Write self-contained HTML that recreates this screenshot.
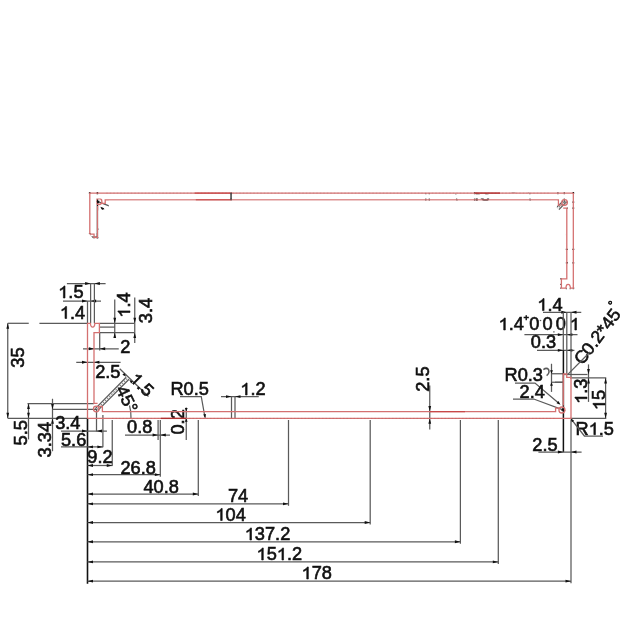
<!DOCTYPE html>
<html><head><meta charset="utf-8"><style>
html,body{margin:0;padding:0;background:#fff;width:640px;height:640px;overflow:hidden}
svg{display:block;filter:blur(0.3px)}
text{font-family:"Liberation Sans",sans-serif;fill:#111;stroke:#111;stroke-width:0.6px;text-anchor:middle}
line,path{fill:none}
.ah{fill:#111;stroke:none}
.h1{fill:none;stroke:none}
.g1{fill:#111;stroke:#111;stroke-width:0.6px}
</style></head><body>
<svg width="640" height="640" viewBox="0 0 640 640">
<g transform="rotate(180 330.4 305.75)">
<g stroke="#5a5a5a" stroke-width="1.25">
<line x1="66.9" y1="283.5" x2="105.6" y2="283.5" />
<path class="ah" d="M90.60 283.50L85.10 284.90L85.10 282.10Z"/>
<path class="ah" d="M94.40 283.50L99.90 282.10L99.90 284.90Z"/>
<text transform="translate(70.88 298.00) scale(1.04 1)" font-size="17.5"><tspan class="h1">1</tspan>.5</text>
<path class="g1" transform="translate(70.88 298.00) scale(1.04 1)" d="M-5.65 0.00L-7.19 0.00L-7.19 -9.40L-7.55 -9.06L-8.15 -8.63L-8.84 -8.22L-9.60 -7.84L-10.27 -7.59L-10.27 -9.02L-9.35 -9.47L-8.49 -10.01L-7.64 -10.68L-7.04 -11.36L-6.68 -12.04L-5.65 -12.04Z"/>
<line x1="63" y1="301" x2="101" y2="301" />
<path class="ah" d="M87.50 301.00L82.00 302.40L82.00 299.60Z"/>
<path class="ah" d="M90.60 301.00L96.10 299.60L96.10 302.40Z"/>
<text transform="translate(72.50 318.50) scale(1.04 1)" font-size="17.5"><tspan class="h1">1</tspan>.4</text>
<path class="g1" transform="translate(72.50 318.50) scale(1.04 1)" d="M-5.65 0.00L-7.19 0.00L-7.19 -9.40L-7.55 -9.06L-8.15 -8.63L-8.84 -8.22L-9.60 -7.84L-10.27 -7.59L-10.27 -9.02L-9.35 -9.47L-8.49 -10.01L-7.64 -10.68L-7.04 -11.36L-6.68 -12.04L-5.65 -12.04Z"/>
<line x1="87.5" y1="301" x2="87.5" y2="323.3" />
<line x1="90.6" y1="283.5" x2="90.6" y2="323.3" />
<line x1="94.4" y1="283.5" x2="94.4" y2="323.3" />
<line x1="7.75" y1="323.3" x2="28.75" y2="323.3" />
<line x1="39.4" y1="323.3" x2="87.5" y2="323.3" />
<line x1="7.75" y1="323.3" x2="7.75" y2="418.3" />
<path class="ah" d="M7.75 323.30L9.15 328.80L6.35 328.80Z"/>
<path class="ah" d="M7.75 418.30L6.35 412.80L9.15 412.80Z"/>
<text transform="translate(24.00 357.62) rotate(-90) scale(1.04 1)" font-size="17.5">35</text>
<line x1="7.75" y1="418.3" x2="87.5" y2="418.3" />
<line x1="99.7" y1="323.3" x2="134.4" y2="323.3" />
<line x1="99.7" y1="327.1" x2="115" y2="327.1" />
<line x1="99.7" y1="332.6" x2="134.4" y2="332.6" />
<line x1="114.75" y1="299.4" x2="114.75" y2="337.5" />
<path class="ah" d="M114.75 323.30L113.35 317.80L116.15 317.80Z"/>
<path class="ah" d="M114.75 332.60L116.15 338.10L113.35 338.10Z"/>
<text transform="translate(130.00 305.00) rotate(-90) scale(1.04 1)" font-size="17.5"><tspan class="h1">1</tspan>.4</text>
<path class="g1" transform="translate(130.00 305.00) rotate(-90) scale(1.04 1)" d="M-5.65 0.00L-7.19 0.00L-7.19 -9.40L-7.55 -9.06L-8.15 -8.63L-8.84 -8.22L-9.60 -7.84L-10.27 -7.59L-10.27 -9.02L-9.35 -9.47L-8.49 -10.01L-7.64 -10.68L-7.04 -11.36L-6.68 -12.04L-5.65 -12.04Z"/>
<line x1="134.75" y1="297.5" x2="134.75" y2="343" />
<path class="ah" d="M134.75 323.30L133.35 317.80L136.15 317.80Z"/>
<path class="ah" d="M134.75 332.60L136.15 338.10L133.35 338.10Z"/>
<text transform="translate(151.50 310.50) rotate(-90) scale(1.04 1)" font-size="17.5">3.4</text>
<line x1="99.7" y1="332.6" x2="99.7" y2="350.5" />
<line x1="83" y1="348.75" x2="118.75" y2="348.75" />
<path class="ah" d="M94.30 348.75L88.80 350.15L88.80 347.35Z"/>
<path class="ah" d="M99.70 348.75L105.20 347.35L105.20 350.15Z"/>
<text transform="translate(125.30 353.00) scale(1.04 1)" font-size="17.5">2</text>
<line x1="76.25" y1="362.25" x2="120.6" y2="362.25" />
<path class="ah" d="M87.50 362.25L82.00 363.65L82.00 360.85Z"/>
<path class="ah" d="M93.90 362.25L99.40 360.85L99.40 363.65Z"/>
<text transform="translate(107.80 377.50) scale(1.04 1)" font-size="17.5">2.5</text>
<line x1="95.3" y1="408.6" x2="126.2" y2="377.2" />
<line x1="97.9" y1="410.4" x2="129.0" y2="379.2" />
<line x1="96.6" y1="409.5" x2="127.6" y2="378.2" stroke-dasharray="1.5 1.5" stroke="#888"/>
<line x1="119.7" y1="368.7" x2="148.5" y2="396.5" />
<path class="ah" d="M126.20 376.70L122.38 374.86L124.36 372.88Z"/>
<path class="ah" d="M129.30 379.70L133.12 381.54L131.14 383.52Z"/>
<text transform="translate(142.00 384.50) rotate(45) scale(1.04 1) translate(0 6.02)" font-size="17.5"><tspan class="h1">1</tspan>.5</text>
<path class="g1" transform="translate(142.00 384.50) rotate(45) scale(1.04 1) translate(0 6.02)" d="M-5.65 0.00L-7.19 0.00L-7.19 -9.40L-7.55 -9.06L-8.15 -8.63L-8.84 -8.22L-9.60 -7.84L-10.27 -7.59L-10.27 -9.02L-9.35 -9.47L-8.49 -10.01L-7.64 -10.68L-7.04 -11.36L-6.68 -12.04L-5.65 -12.04Z"/>
<text transform="translate(127.00 399.00) rotate(64) scale(1.04 1) translate(0 6.02)" font-size="17.5">45°</text>
<path d="M129.5 405.5Q131.2 411 131.0 418.3" />
<line x1="27.5" y1="403.5" x2="93.9" y2="403.5" />
<line x1="28.5" y1="403.5" x2="28.5" y2="439.4" />
<path class="ah" d="M28.50 403.50L29.90 409.00L27.10 409.00Z"/>
<path class="ah" d="M28.50 418.30L27.10 412.80L29.90 412.80Z"/>
<text transform="translate(27.00 432.80) rotate(-90) scale(1.04 1)" font-size="17.5">5.5</text>
<line x1="52.5" y1="409.4" x2="96" y2="409.4" />
<line x1="52.5" y1="398.75" x2="52.5" y2="451.25" />
<path class="ah" d="M52.50 409.40L51.10 403.90L53.90 403.90Z"/>
<path class="ah" d="M52.50 418.30L53.90 423.80L51.10 423.80Z"/>
<text transform="translate(51.25 439.70) rotate(-90) scale(1.04 1)" font-size="17.5">3.34</text>
<line x1="87.5" y1="418.3" x2="87.5" y2="583.75" stroke="#111" stroke-width="1.6" />
<line x1="61" y1="431" x2="106.9" y2="431" />
<line x1="96.5" y1="409" x2="96.5" y2="431.5" />
<path class="ah" d="M87.50 431.00L82.00 432.40L82.00 429.60Z"/>
<path class="ah" d="M96.50 431.00L102.00 429.60L102.00 432.40Z"/>
<text transform="translate(67.80 428.75) scale(1.04 1)" font-size="17.5">3.4</text>
<line x1="61" y1="446.9" x2="103" y2="446.9" />
<line x1="102.9" y1="415" x2="102.9" y2="447.2" />
<path class="ah" d="M87.50 446.90L93.00 445.50L93.00 448.30Z"/>
<path class="ah" d="M102.90 446.90L97.40 448.30L97.40 445.50Z"/>
<text transform="translate(73.62 446.25) scale(1.04 1)" font-size="17.5">5.6</text>
<line x1="87.5" y1="465.5" x2="112.5" y2="465.5" />
<line x1="112.25" y1="420" x2="112.25" y2="465.8" />
<path class="ah" d="M87.50 465.50L93.00 464.10L93.00 466.90Z"/>
<path class="ah" d="M112.25 465.50L106.75 466.90L106.75 464.10Z"/>
<text transform="translate(99.95 463.00) scale(1.04 1)" font-size="17.5">9.2</text>
<line x1="87.5" y1="474.7" x2="160.3" y2="474.7" />
<line x1="160.3" y1="420" x2="160.3" y2="476.7" />
<path class="ah" d="M87.50 474.70L93.00 473.30L93.00 476.10Z"/>
<path class="ah" d="M160.30 474.70L154.80 476.10L154.80 473.30Z"/>
<text transform="translate(138.15 473.80) scale(1.04 1)" font-size="17.5">26.8</text>
<line x1="87.5" y1="494.0" x2="198.3" y2="494.0" />
<line x1="198.3" y1="420" x2="198.3" y2="496.0" />
<path class="ah" d="M87.50 494.00L93.00 492.60L93.00 495.40Z"/>
<path class="ah" d="M198.30 494.00L192.80 495.40L192.80 492.60Z"/>
<text transform="translate(161.15 492.50) scale(1.04 1)" font-size="17.5">40.8</text>
<line x1="87.5" y1="503.8" x2="288.5" y2="503.8" />
<line x1="288.5" y1="420" x2="288.5" y2="505.8" />
<path class="ah" d="M87.50 503.80L93.00 502.40L93.00 505.20Z"/>
<path class="ah" d="M288.50 503.80L283.00 505.20L283.00 502.40Z"/>
<text transform="translate(238.12 502.00) scale(1.04 1)" font-size="17.5">74</text>
<line x1="87.5" y1="522.5" x2="370.2" y2="522.5" />
<line x1="370.2" y1="420" x2="370.2" y2="524.5" />
<path class="ah" d="M87.50 522.50L93.00 521.10L93.00 523.90Z"/>
<path class="ah" d="M370.20 522.50L364.70 523.90L364.70 521.10Z"/>
<text transform="translate(230.62 520.50) scale(1.04 1)" font-size="17.5"><tspan class="h1">1</tspan>04</text>
<path class="g1" transform="translate(230.62 520.50) scale(1.04 1)" d="M-8.08 0.00L-9.62 0.00L-9.62 -9.40L-9.99 -9.06L-10.59 -8.63L-11.27 -8.22L-12.04 -7.84L-12.71 -7.59L-12.71 -9.02L-11.78 -9.47L-10.93 -10.01L-10.07 -10.68L-9.48 -11.36L-9.12 -12.04L-8.08 -12.04Z"/>
<line x1="87.5" y1="541.75" x2="460.4" y2="541.75" />
<line x1="460.4" y1="420" x2="460.4" y2="543.75" />
<path class="ah" d="M87.50 541.75L93.00 540.35L93.00 543.15Z"/>
<path class="ah" d="M460.40 541.75L454.90 543.15L454.90 540.35Z"/>
<text transform="translate(267.50 540.00) scale(1.04 1)" font-size="17.5"><tspan class="h1">1</tspan>37.2</text>
<path class="g1" transform="translate(267.50 540.00) scale(1.04 1)" d="M-15.37 0.00L-16.91 0.00L-16.91 -9.40L-17.28 -9.06L-17.88 -8.63L-18.56 -8.22L-19.33 -7.84L-20.00 -7.59L-20.00 -9.02L-19.07 -9.47L-18.22 -10.01L-17.36 -10.68L-16.77 -11.36L-16.41 -12.04L-15.37 -12.04Z"/>
<line x1="87.5" y1="561.9" x2="498.3" y2="561.9" />
<line x1="498.3" y1="420" x2="498.3" y2="563.9" />
<path class="ah" d="M87.50 561.90L93.00 560.50L93.00 563.30Z"/>
<path class="ah" d="M498.30 561.90L492.80 563.30L492.80 560.50Z"/>
<text transform="translate(279.30 560.00) scale(1.04 1)" font-size="17.5"><tspan class="h1">1</tspan>5<tspan class="h1">1</tspan>.2</text>
<path class="g1" transform="translate(279.30 560.00) scale(1.04 1)" d="M-15.39 0.00L-16.93 0.00L-16.93 -9.40L-17.29 -9.06L-17.89 -8.63L-18.58 -8.22L-19.35 -7.84L-20.01 -7.59L-20.01 -9.02L-19.09 -9.47L-18.23 -10.01L-17.38 -10.68L-16.78 -11.36L-16.42 -12.04L-15.39 -12.04ZM4.09 0.00L2.55 0.00L2.55 -9.40L2.19 -9.06L1.59 -8.63L0.90 -8.22L0.14 -7.84L-0.53 -7.59L-0.53 -9.02L0.39 -9.47L1.25 -10.01L2.10 -10.68L2.70 -11.36L3.06 -12.04L4.09 -12.04Z"/>
<line x1="87.5" y1="581.2" x2="571.0" y2="581.2" />
<line x1="571.0" y1="420" x2="571.0" y2="583.2" />
<path class="ah" d="M87.50 581.20L93.00 579.80L93.00 582.60Z"/>
<path class="ah" d="M571.00 581.20L565.50 582.60L565.50 579.80Z"/>
<text transform="translate(316.75 579.00) scale(1.04 1)" font-size="17.5"><tspan class="h1">1</tspan>78</text>
<path class="g1" transform="translate(316.75 579.00) scale(1.04 1)" d="M-8.08 0.00L-9.62 0.00L-9.62 -9.40L-9.99 -9.06L-10.59 -8.63L-11.27 -8.22L-12.04 -7.84L-12.71 -7.59L-12.71 -9.02L-11.78 -9.47L-10.93 -10.01L-10.07 -10.68L-9.48 -11.36L-9.12 -12.04L-8.08 -12.04Z"/>
<line x1="158.1" y1="420" x2="158.1" y2="440" />
<line x1="125" y1="435" x2="170" y2="435" />
<path class="ah" d="M158.10 435.00L152.60 436.40L152.60 433.60Z"/>
<path class="ah" d="M160.30 435.00L165.80 433.60L165.80 436.40Z"/>
<text transform="translate(139.75 432.50) scale(1.04 1)" font-size="17.5">0.8</text>
<line x1="186.25" y1="407.5" x2="186.25" y2="440" />
<path class="ah" d="M186.25 411.60L184.85 408.10L187.65 408.10Z"/>
<path class="ah" d="M186.25 418.30L187.65 421.80L184.85 421.80Z"/>
<text transform="translate(184.40 421.88) rotate(-90) scale(1.04 1)" font-size="17.5">0.2</text>
<text transform="translate(189.68 395.00) scale(1.04 1)" font-size="17.5">R0.5</text>
<path d="M180 396.5L201.25 396.5L205 417.5" />
<path class="ah" d="M205.30 418.30L203.21 414.61L205.97 414.12Z"/>
<line x1="221" y1="396.6" x2="258.75" y2="396.6" />
<line x1="231.5" y1="396.6" x2="231.5" y2="418.3" />
<line x1="235" y1="396.6" x2="235" y2="418.3" />
<path class="ah" d="M231.50 396.60L226.00 398.00L226.00 395.20Z"/>
<path class="ah" d="M235.00 396.60L240.50 395.20L240.50 398.00Z"/>
<text transform="translate(253.00 395.00) scale(1.04 1)" font-size="17.5"><tspan class="h1">1</tspan>.2</text>
<path class="g1" transform="translate(253.00 395.00) scale(1.04 1)" d="M-5.65 0.00L-7.19 0.00L-7.19 -9.40L-7.55 -9.06L-8.15 -8.63L-8.84 -8.22L-9.60 -7.84L-10.27 -7.59L-10.27 -9.02L-9.35 -9.47L-8.49 -10.01L-7.64 -10.68L-7.04 -11.36L-6.68 -12.04L-5.65 -12.04Z"/>
<line x1="429.75" y1="385.6" x2="429.75" y2="429.4" />
<path class="ah" d="M429.75 411.60L428.35 406.10L431.15 406.10Z"/>
<path class="ah" d="M429.75 418.30L431.15 423.80L428.35 423.80Z"/>
<text transform="translate(429.40 379.12) rotate(-90) scale(1.04 1)" font-size="17.5">2.5</text>
<text transform="translate(523.75 380.60) scale(1.04 1)" font-size="17.5">R0.3</text>
<path d="M543.4 369.6Q546.5 367.2 548.6 369.6Q550 373 546.6 375.6" stroke-width="1.5" />
<path d="M515 383L535 383L559.4 403.75" />
<path class="ah" d="M560.50 404.70L556.55 403.18L558.36 401.04Z"/>
<text transform="translate(532.20 397.50) scale(1.04 1)" font-size="17.5">2.4</text>
<path d="M513 399L533.75 399L565 410.6" />
<path class="ah" d="M565.50 410.80L561.26 410.72L562.23 408.10Z"/>
<line x1="551.5" y1="363.75" x2="551.5" y2="391.9" />
<line x1="551.5" y1="373.75" x2="563.5" y2="373.75" />
<line x1="551.5" y1="382.25" x2="563.5" y2="382.25" />
<path class="ah" d="M551.50 373.75L550.10 370.25L552.90 370.25Z"/>
<path class="ah" d="M551.50 382.25L552.90 385.75L550.10 385.75Z"/>
<text transform="translate(549.95 310.60) scale(1.04 1)" font-size="17.5"><tspan class="h1">1</tspan>.4</text>
<path class="g1" transform="translate(549.95 310.60) scale(1.04 1)" d="M-5.65 0.00L-7.19 0.00L-7.19 -9.40L-7.55 -9.06L-8.15 -8.63L-8.84 -8.22L-9.60 -7.84L-10.27 -7.59L-10.27 -9.02L-9.35 -9.47L-8.49 -10.01L-7.64 -10.68L-7.04 -11.36L-6.68 -12.04L-5.65 -12.04Z"/>
<line x1="543" y1="312.25" x2="581.25" y2="312.25" />
<path class="ah" d="M566.80 312.25L561.30 313.65L561.30 310.85Z"/>
<path class="ah" d="M571.00 312.25L576.50 310.85L576.50 313.65Z"/>
<text transform="translate(511.20 330.00) scale(1.04 1)" font-size="17.5"><tspan class="h1">1</tspan>.4</text>
<path class="g1" transform="translate(511.20 330.00) scale(1.04 1)" d="M-5.65 0.00L-7.19 0.00L-7.19 -9.40L-7.55 -9.06L-8.15 -8.63L-8.84 -8.22L-9.60 -7.84L-10.27 -7.59L-10.27 -9.02L-9.35 -9.47L-8.49 -10.01L-7.64 -10.68L-7.04 -11.36L-6.68 -12.04L-5.65 -12.04Z"/>
<text transform="translate(534.40 330.00) scale(1.04 1)" font-size="17.5">0</text>
<text transform="translate(547.50 330.00) scale(1.04 1)" font-size="17.5">0</text>
<text transform="translate(560.80 330.00) scale(1.04 1)" font-size="17.5">0</text>
<text transform="translate(574.75 330.00) scale(1.04 1)" font-size="17.5"><tspan class="h1">1</tspan></text>
<path class="g1" transform="translate(574.75 330.00) scale(1.04 1)" d="M1.65 0.00L0.11 0.00L0.11 -9.40L-0.26 -9.06L-0.85 -8.63L-1.54 -8.22L-2.31 -7.84L-2.97 -7.59L-2.97 -9.02L-2.05 -9.47L-1.20 -10.01L-0.34 -10.68L0.26 -11.36L0.62 -12.04L1.65 -12.04Z"/>
<text transform="translate(526.25 321.20) scale(1.04 1)" font-size="9">+</text>
<line x1="539.8" y1="320.5" x2="541.2" y2="320.5" />
<line x1="553.2" y1="331.8" x2="554.6" y2="331.8" />
<line x1="524.4" y1="334.7" x2="577.5" y2="334.7" />
<path class="ah" d="M563.30 334.70L557.80 336.10L557.80 333.30Z"/>
<path class="ah" d="M566.80 334.70L572.30 333.30L572.30 336.10Z"/>
<text transform="translate(543.50 348.00) scale(1.04 1)" font-size="17.5">0.3</text>
<line x1="537" y1="350.3" x2="574.4" y2="350.3" />
<path class="ah" d="M563.30 350.30L557.80 351.70L557.80 348.90Z"/>
<path class="ah" d="M566.80 350.30L572.30 348.90L572.30 351.70Z"/>
<line x1="563.3" y1="312.25" x2="563.3" y2="350.3" />
<line x1="563.4" y1="350.3" x2="563.4" y2="452.2" stroke="#111" stroke-width="1.5" />
<line x1="566.8" y1="312.25" x2="566.8" y2="374" />
<line x1="571" y1="312.25" x2="571" y2="377.3" />
<text transform="translate(600.85 331.75) rotate(-53) scale(1.04 1) translate(0 6.02)" font-size="17.5">0.2*45</text>
<text transform="translate(581.60 356.80) rotate(-53) scale(1.04 1) translate(0 6.02)" font-size="17.5">C</text>
<text transform="translate(612.20 304.30) rotate(-53) scale(1.04 1) translate(0 4.13)" font-size="12">°</text>
<line x1="567.6" y1="374.6" x2="590" y2="352" />
<line x1="563" y1="374.5" x2="587.5" y2="374.5" />
<line x1="570" y1="377.9" x2="606.25" y2="377.9" />
<line x1="570" y1="418.3" x2="606.25" y2="418.3" />
<line x1="555" y1="382.25" x2="563.5" y2="382.25" />
<line x1="588.5" y1="364.4" x2="588.5" y2="401.9" />
<path class="ah" d="M588.50 374.50L587.10 369.00L589.90 369.00Z"/>
<path class="ah" d="M588.50 377.90L589.90 383.40L587.10 383.40Z"/>
<text transform="translate(587.00 391.20) rotate(-90) scale(1.04 1)" font-size="17.5"><tspan class="h1">1</tspan>.3</text>
<path class="g1" transform="translate(587.00 391.20) rotate(-90) scale(1.04 1)" d="M-5.65 0.00L-7.19 0.00L-7.19 -9.40L-7.55 -9.06L-8.15 -8.63L-8.84 -8.22L-9.60 -7.84L-10.27 -7.59L-10.27 -9.02L-9.35 -9.47L-8.49 -10.01L-7.64 -10.68L-7.04 -11.36L-6.68 -12.04L-5.65 -12.04Z"/>
<line x1="605.6" y1="377.9" x2="605.6" y2="418.3" />
<path class="ah" d="M605.60 377.90L607.00 383.40L604.20 383.40Z"/>
<path class="ah" d="M605.60 418.30L604.20 412.80L607.00 412.80Z"/>
<text transform="translate(605.00 400.00) rotate(-90) scale(1.04 1)" font-size="17.5"><tspan class="h1">1</tspan>5</text>
<path class="g1" transform="translate(605.00 400.00) rotate(-90) scale(1.04 1)" d="M-3.22 0.00L-4.76 0.00L-4.76 -9.40L-5.13 -9.06L-5.72 -8.63L-6.41 -8.22L-7.18 -7.84L-7.84 -7.59L-7.84 -9.02L-6.92 -9.47L-6.07 -10.01L-5.21 -10.68L-4.61 -11.36L-4.25 -12.04L-3.22 -12.04Z"/>
<text transform="translate(594.75 434.70) scale(1.04 1)" font-size="17.5">R<tspan class="h1">1</tspan>.5</text>
<path class="g1" transform="translate(594.75 434.70) scale(1.04 1)" d="M0.67 0.00L-0.87 0.00L-0.87 -9.40L-1.24 -9.06L-1.83 -8.63L-2.52 -8.22L-3.29 -7.84L-3.95 -7.59L-3.95 -9.02L-3.03 -9.47L-2.18 -10.01L-1.32 -10.68L-0.72 -11.36L-0.36 -12.04L0.67 -12.04Z"/>
<path d="M570.6 418.3L584.4 436L603 436" />
<path class="ah" d="M570.60 418.30L574.12 420.66L571.88 422.34Z"/>
<text transform="translate(545.00 450.60) scale(1.04 1)" font-size="17.5">2.5</text>
<line x1="538.4" y1="452" x2="581.6" y2="452" />
<path class="ah" d="M563.40 452.00L557.90 453.40L557.90 450.60Z"/>
<path class="ah" d="M571.00 452.00L576.50 450.60L576.50 453.40Z"/>
</g>
<path d="M87.5 418.4L87.5 323.3L90.4 323.3Q90.6 327.1 92.7 327.1Q94.8 327.1 94.8 323.3L99.4 323.3L99.4 332.6L94.0 332.6L94.0 403.4L97.6 403.4M99.4 406.4L102.4 406.4L102.4 411.7L555.6 411.7L555.6 408.2L559.2 408.2M563.3 405.5L563.3 374.0L566.75 374.0L566.75 377.3L571.0 377.3L571.0 418.4L87.5 418.4" stroke="#d47070" stroke-width="1.3" fill="none"/>
<circle cx="96.25" cy="409" r="2.8" stroke="#d47070" stroke-width="1.3" fill="none"/>
<circle cx="561.9" cy="410" r="3" stroke="#d47070" stroke-width="1.3" fill="none"/>
<line x1="112" y1="418.4" x2="555" y2="418.4" stroke="#b06060" stroke-width="0.7" stroke-dasharray="1.5 2" opacity="0.5"/>
<line x1="160.8" y1="418.4" x2="186" y2="418.4" stroke="#b03030" stroke-width="1.3"/>
<line x1="430" y1="411.7" x2="465" y2="411.7" stroke="#c84848" stroke-width="1.3"/>
<path style="fill:#fff;stroke:none;fill-rule:evenodd" d="M-3000 -3000L4000 -3000L4000 4000L-3000 4000ZM86.5 419.4L86.5 322.3L100.7 322.3L100.7 333.6L95.0 333.6L95.0 401L98 398L104 404L103.4 410.7L552 410.7L552 403L562.3 401L562.3 373.0L567.6 373.0L572.0 378L572.0 419.4ZM88.7 328.4L92.8 328.4L92.8 412.9L564.5 412.9L564.5 378.5L569.8 378.5L569.8 417.2L88.7 417.2Z"/>
<line x1="430.6" y1="418.4" x2="466" y2="418.4" stroke="#c84848" stroke-width="1.4"/>
<line x1="429.75" y1="411.7" x2="429.75" y2="418.4" stroke="#333" stroke-width="1.4"/>
</g>
<g>
<g stroke="#5a5a5a" stroke-width="1.25">
<line x1="66.9" y1="283.5" x2="105.6" y2="283.5" />
<path class="ah" d="M90.60 283.50L85.10 284.90L85.10 282.10Z"/>
<path class="ah" d="M94.40 283.50L99.90 282.10L99.90 284.90Z"/>
<text transform="translate(70.88 298.00) scale(1.04 1)" font-size="17.5"><tspan class="h1">1</tspan>.5</text>
<path class="g1" transform="translate(70.88 298.00) scale(1.04 1)" d="M-5.65 0.00L-7.19 0.00L-7.19 -9.40L-7.55 -9.06L-8.15 -8.63L-8.84 -8.22L-9.60 -7.84L-10.27 -7.59L-10.27 -9.02L-9.35 -9.47L-8.49 -10.01L-7.64 -10.68L-7.04 -11.36L-6.68 -12.04L-5.65 -12.04Z"/>
<line x1="63" y1="301" x2="101" y2="301" />
<path class="ah" d="M87.50 301.00L82.00 302.40L82.00 299.60Z"/>
<path class="ah" d="M90.60 301.00L96.10 299.60L96.10 302.40Z"/>
<text transform="translate(72.50 318.50) scale(1.04 1)" font-size="17.5"><tspan class="h1">1</tspan>.4</text>
<path class="g1" transform="translate(72.50 318.50) scale(1.04 1)" d="M-5.65 0.00L-7.19 0.00L-7.19 -9.40L-7.55 -9.06L-8.15 -8.63L-8.84 -8.22L-9.60 -7.84L-10.27 -7.59L-10.27 -9.02L-9.35 -9.47L-8.49 -10.01L-7.64 -10.68L-7.04 -11.36L-6.68 -12.04L-5.65 -12.04Z"/>
<line x1="87.5" y1="301" x2="87.5" y2="323.3" />
<line x1="90.6" y1="283.5" x2="90.6" y2="323.3" />
<line x1="94.4" y1="283.5" x2="94.4" y2="323.3" />
<line x1="7.75" y1="323.3" x2="28.75" y2="323.3" />
<line x1="39.4" y1="323.3" x2="87.5" y2="323.3" />
<line x1="7.75" y1="323.3" x2="7.75" y2="418.3" />
<path class="ah" d="M7.75 323.30L9.15 328.80L6.35 328.80Z"/>
<path class="ah" d="M7.75 418.30L6.35 412.80L9.15 412.80Z"/>
<text transform="translate(24.00 357.62) rotate(-90) scale(1.04 1)" font-size="17.5">35</text>
<line x1="7.75" y1="418.3" x2="87.5" y2="418.3" />
<line x1="99.7" y1="323.3" x2="134.4" y2="323.3" />
<line x1="99.7" y1="327.1" x2="115" y2="327.1" />
<line x1="99.7" y1="332.6" x2="134.4" y2="332.6" />
<line x1="114.75" y1="299.4" x2="114.75" y2="337.5" />
<path class="ah" d="M114.75 323.30L113.35 317.80L116.15 317.80Z"/>
<path class="ah" d="M114.75 332.60L116.15 338.10L113.35 338.10Z"/>
<text transform="translate(130.00 305.00) rotate(-90) scale(1.04 1)" font-size="17.5"><tspan class="h1">1</tspan>.4</text>
<path class="g1" transform="translate(130.00 305.00) rotate(-90) scale(1.04 1)" d="M-5.65 0.00L-7.19 0.00L-7.19 -9.40L-7.55 -9.06L-8.15 -8.63L-8.84 -8.22L-9.60 -7.84L-10.27 -7.59L-10.27 -9.02L-9.35 -9.47L-8.49 -10.01L-7.64 -10.68L-7.04 -11.36L-6.68 -12.04L-5.65 -12.04Z"/>
<line x1="134.75" y1="297.5" x2="134.75" y2="343" />
<path class="ah" d="M134.75 323.30L133.35 317.80L136.15 317.80Z"/>
<path class="ah" d="M134.75 332.60L136.15 338.10L133.35 338.10Z"/>
<text transform="translate(151.50 310.50) rotate(-90) scale(1.04 1)" font-size="17.5">3.4</text>
<line x1="99.7" y1="332.6" x2="99.7" y2="350.5" />
<line x1="83" y1="348.75" x2="118.75" y2="348.75" />
<path class="ah" d="M94.30 348.75L88.80 350.15L88.80 347.35Z"/>
<path class="ah" d="M99.70 348.75L105.20 347.35L105.20 350.15Z"/>
<text transform="translate(125.30 353.00) scale(1.04 1)" font-size="17.5">2</text>
<line x1="76.25" y1="362.25" x2="120.6" y2="362.25" />
<path class="ah" d="M87.50 362.25L82.00 363.65L82.00 360.85Z"/>
<path class="ah" d="M93.90 362.25L99.40 360.85L99.40 363.65Z"/>
<text transform="translate(107.80 377.50) scale(1.04 1)" font-size="17.5">2.5</text>
<line x1="95.3" y1="408.6" x2="126.2" y2="377.2" />
<line x1="97.9" y1="410.4" x2="129.0" y2="379.2" />
<line x1="96.6" y1="409.5" x2="127.6" y2="378.2" stroke-dasharray="1.5 1.5" stroke="#888"/>
<line x1="119.7" y1="368.7" x2="148.5" y2="396.5" />
<path class="ah" d="M126.20 376.70L122.38 374.86L124.36 372.88Z"/>
<path class="ah" d="M129.30 379.70L133.12 381.54L131.14 383.52Z"/>
<text transform="translate(142.00 384.50) rotate(45) scale(1.04 1) translate(0 6.02)" font-size="17.5"><tspan class="h1">1</tspan>.5</text>
<path class="g1" transform="translate(142.00 384.50) rotate(45) scale(1.04 1) translate(0 6.02)" d="M-5.65 0.00L-7.19 0.00L-7.19 -9.40L-7.55 -9.06L-8.15 -8.63L-8.84 -8.22L-9.60 -7.84L-10.27 -7.59L-10.27 -9.02L-9.35 -9.47L-8.49 -10.01L-7.64 -10.68L-7.04 -11.36L-6.68 -12.04L-5.65 -12.04Z"/>
<text transform="translate(127.00 399.00) rotate(64) scale(1.04 1) translate(0 6.02)" font-size="17.5">45°</text>
<path d="M129.5 405.5Q131.2 411 131.0 418.3" />
<line x1="27.5" y1="403.5" x2="93.9" y2="403.5" />
<line x1="28.5" y1="403.5" x2="28.5" y2="439.4" />
<path class="ah" d="M28.50 403.50L29.90 409.00L27.10 409.00Z"/>
<path class="ah" d="M28.50 418.30L27.10 412.80L29.90 412.80Z"/>
<text transform="translate(27.00 432.80) rotate(-90) scale(1.04 1)" font-size="17.5">5.5</text>
<line x1="52.5" y1="409.4" x2="96" y2="409.4" />
<line x1="52.5" y1="398.75" x2="52.5" y2="451.25" />
<path class="ah" d="M52.50 409.40L51.10 403.90L53.90 403.90Z"/>
<path class="ah" d="M52.50 418.30L53.90 423.80L51.10 423.80Z"/>
<text transform="translate(51.25 439.70) rotate(-90) scale(1.04 1)" font-size="17.5">3.34</text>
<line x1="87.5" y1="418.3" x2="87.5" y2="583.75" stroke="#111" stroke-width="1.6" />
<line x1="61" y1="431" x2="106.9" y2="431" />
<line x1="96.5" y1="409" x2="96.5" y2="431.5" />
<path class="ah" d="M87.50 431.00L82.00 432.40L82.00 429.60Z"/>
<path class="ah" d="M96.50 431.00L102.00 429.60L102.00 432.40Z"/>
<text transform="translate(67.80 428.75) scale(1.04 1)" font-size="17.5">3.4</text>
<line x1="61" y1="446.9" x2="103" y2="446.9" />
<line x1="102.9" y1="415" x2="102.9" y2="447.2" />
<path class="ah" d="M87.50 446.90L93.00 445.50L93.00 448.30Z"/>
<path class="ah" d="M102.90 446.90L97.40 448.30L97.40 445.50Z"/>
<text transform="translate(73.62 446.25) scale(1.04 1)" font-size="17.5">5.6</text>
<line x1="87.5" y1="465.5" x2="112.5" y2="465.5" />
<line x1="112.25" y1="420" x2="112.25" y2="465.8" />
<path class="ah" d="M87.50 465.50L93.00 464.10L93.00 466.90Z"/>
<path class="ah" d="M112.25 465.50L106.75 466.90L106.75 464.10Z"/>
<text transform="translate(99.95 463.00) scale(1.04 1)" font-size="17.5">9.2</text>
<line x1="87.5" y1="474.7" x2="160.3" y2="474.7" />
<line x1="160.3" y1="420" x2="160.3" y2="476.7" />
<path class="ah" d="M87.50 474.70L93.00 473.30L93.00 476.10Z"/>
<path class="ah" d="M160.30 474.70L154.80 476.10L154.80 473.30Z"/>
<text transform="translate(138.15 473.80) scale(1.04 1)" font-size="17.5">26.8</text>
<line x1="87.5" y1="494.0" x2="198.3" y2="494.0" />
<line x1="198.3" y1="420" x2="198.3" y2="496.0" />
<path class="ah" d="M87.50 494.00L93.00 492.60L93.00 495.40Z"/>
<path class="ah" d="M198.30 494.00L192.80 495.40L192.80 492.60Z"/>
<text transform="translate(161.15 492.50) scale(1.04 1)" font-size="17.5">40.8</text>
<line x1="87.5" y1="503.8" x2="288.5" y2="503.8" />
<line x1="288.5" y1="420" x2="288.5" y2="505.8" />
<path class="ah" d="M87.50 503.80L93.00 502.40L93.00 505.20Z"/>
<path class="ah" d="M288.50 503.80L283.00 505.20L283.00 502.40Z"/>
<text transform="translate(238.12 502.00) scale(1.04 1)" font-size="17.5">74</text>
<line x1="87.5" y1="522.5" x2="370.2" y2="522.5" />
<line x1="370.2" y1="420" x2="370.2" y2="524.5" />
<path class="ah" d="M87.50 522.50L93.00 521.10L93.00 523.90Z"/>
<path class="ah" d="M370.20 522.50L364.70 523.90L364.70 521.10Z"/>
<text transform="translate(230.62 520.50) scale(1.04 1)" font-size="17.5"><tspan class="h1">1</tspan>04</text>
<path class="g1" transform="translate(230.62 520.50) scale(1.04 1)" d="M-8.08 0.00L-9.62 0.00L-9.62 -9.40L-9.99 -9.06L-10.59 -8.63L-11.27 -8.22L-12.04 -7.84L-12.71 -7.59L-12.71 -9.02L-11.78 -9.47L-10.93 -10.01L-10.07 -10.68L-9.48 -11.36L-9.12 -12.04L-8.08 -12.04Z"/>
<line x1="87.5" y1="541.75" x2="460.4" y2="541.75" />
<line x1="460.4" y1="420" x2="460.4" y2="543.75" />
<path class="ah" d="M87.50 541.75L93.00 540.35L93.00 543.15Z"/>
<path class="ah" d="M460.40 541.75L454.90 543.15L454.90 540.35Z"/>
<text transform="translate(267.50 540.00) scale(1.04 1)" font-size="17.5"><tspan class="h1">1</tspan>37.2</text>
<path class="g1" transform="translate(267.50 540.00) scale(1.04 1)" d="M-15.37 0.00L-16.91 0.00L-16.91 -9.40L-17.28 -9.06L-17.88 -8.63L-18.56 -8.22L-19.33 -7.84L-20.00 -7.59L-20.00 -9.02L-19.07 -9.47L-18.22 -10.01L-17.36 -10.68L-16.77 -11.36L-16.41 -12.04L-15.37 -12.04Z"/>
<line x1="87.5" y1="561.9" x2="498.3" y2="561.9" />
<line x1="498.3" y1="420" x2="498.3" y2="563.9" />
<path class="ah" d="M87.50 561.90L93.00 560.50L93.00 563.30Z"/>
<path class="ah" d="M498.30 561.90L492.80 563.30L492.80 560.50Z"/>
<text transform="translate(279.30 560.00) scale(1.04 1)" font-size="17.5"><tspan class="h1">1</tspan>5<tspan class="h1">1</tspan>.2</text>
<path class="g1" transform="translate(279.30 560.00) scale(1.04 1)" d="M-15.39 0.00L-16.93 0.00L-16.93 -9.40L-17.29 -9.06L-17.89 -8.63L-18.58 -8.22L-19.35 -7.84L-20.01 -7.59L-20.01 -9.02L-19.09 -9.47L-18.23 -10.01L-17.38 -10.68L-16.78 -11.36L-16.42 -12.04L-15.39 -12.04ZM4.09 0.00L2.55 0.00L2.55 -9.40L2.19 -9.06L1.59 -8.63L0.90 -8.22L0.14 -7.84L-0.53 -7.59L-0.53 -9.02L0.39 -9.47L1.25 -10.01L2.10 -10.68L2.70 -11.36L3.06 -12.04L4.09 -12.04Z"/>
<line x1="87.5" y1="581.2" x2="571.0" y2="581.2" />
<line x1="571.0" y1="420" x2="571.0" y2="583.2" />
<path class="ah" d="M87.50 581.20L93.00 579.80L93.00 582.60Z"/>
<path class="ah" d="M571.00 581.20L565.50 582.60L565.50 579.80Z"/>
<text transform="translate(316.75 579.00) scale(1.04 1)" font-size="17.5"><tspan class="h1">1</tspan>78</text>
<path class="g1" transform="translate(316.75 579.00) scale(1.04 1)" d="M-8.08 0.00L-9.62 0.00L-9.62 -9.40L-9.99 -9.06L-10.59 -8.63L-11.27 -8.22L-12.04 -7.84L-12.71 -7.59L-12.71 -9.02L-11.78 -9.47L-10.93 -10.01L-10.07 -10.68L-9.48 -11.36L-9.12 -12.04L-8.08 -12.04Z"/>
<line x1="158.1" y1="420" x2="158.1" y2="440" />
<line x1="125" y1="435" x2="170" y2="435" />
<path class="ah" d="M158.10 435.00L152.60 436.40L152.60 433.60Z"/>
<path class="ah" d="M160.30 435.00L165.80 433.60L165.80 436.40Z"/>
<text transform="translate(139.75 432.50) scale(1.04 1)" font-size="17.5">0.8</text>
<line x1="186.25" y1="407.5" x2="186.25" y2="440" />
<path class="ah" d="M186.25 411.60L184.85 408.10L187.65 408.10Z"/>
<path class="ah" d="M186.25 418.30L187.65 421.80L184.85 421.80Z"/>
<text transform="translate(184.40 421.88) rotate(-90) scale(1.04 1)" font-size="17.5">0.2</text>
<text transform="translate(189.68 395.00) scale(1.04 1)" font-size="17.5">R0.5</text>
<path d="M180 396.5L201.25 396.5L205 417.5" />
<path class="ah" d="M205.30 418.30L203.21 414.61L205.97 414.12Z"/>
<line x1="221" y1="396.6" x2="258.75" y2="396.6" />
<line x1="231.5" y1="396.6" x2="231.5" y2="418.3" />
<line x1="235" y1="396.6" x2="235" y2="418.3" />
<path class="ah" d="M231.50 396.60L226.00 398.00L226.00 395.20Z"/>
<path class="ah" d="M235.00 396.60L240.50 395.20L240.50 398.00Z"/>
<text transform="translate(253.00 395.00) scale(1.04 1)" font-size="17.5"><tspan class="h1">1</tspan>.2</text>
<path class="g1" transform="translate(253.00 395.00) scale(1.04 1)" d="M-5.65 0.00L-7.19 0.00L-7.19 -9.40L-7.55 -9.06L-8.15 -8.63L-8.84 -8.22L-9.60 -7.84L-10.27 -7.59L-10.27 -9.02L-9.35 -9.47L-8.49 -10.01L-7.64 -10.68L-7.04 -11.36L-6.68 -12.04L-5.65 -12.04Z"/>
<line x1="429.75" y1="385.6" x2="429.75" y2="429.4" />
<path class="ah" d="M429.75 411.60L428.35 406.10L431.15 406.10Z"/>
<path class="ah" d="M429.75 418.30L431.15 423.80L428.35 423.80Z"/>
<text transform="translate(429.40 379.12) rotate(-90) scale(1.04 1)" font-size="17.5">2.5</text>
<text transform="translate(523.75 380.60) scale(1.04 1)" font-size="17.5">R0.3</text>
<path d="M543.4 369.6Q546.5 367.2 548.6 369.6Q550 373 546.6 375.6" stroke-width="1.5" />
<path d="M515 383L535 383L559.4 403.75" />
<path class="ah" d="M560.50 404.70L556.55 403.18L558.36 401.04Z"/>
<text transform="translate(532.20 397.50) scale(1.04 1)" font-size="17.5">2.4</text>
<path d="M513 399L533.75 399L565 410.6" />
<path class="ah" d="M565.50 410.80L561.26 410.72L562.23 408.10Z"/>
<line x1="551.5" y1="363.75" x2="551.5" y2="391.9" />
<line x1="551.5" y1="373.75" x2="563.5" y2="373.75" />
<line x1="551.5" y1="382.25" x2="563.5" y2="382.25" />
<path class="ah" d="M551.50 373.75L550.10 370.25L552.90 370.25Z"/>
<path class="ah" d="M551.50 382.25L552.90 385.75L550.10 385.75Z"/>
<text transform="translate(549.95 310.60) scale(1.04 1)" font-size="17.5"><tspan class="h1">1</tspan>.4</text>
<path class="g1" transform="translate(549.95 310.60) scale(1.04 1)" d="M-5.65 0.00L-7.19 0.00L-7.19 -9.40L-7.55 -9.06L-8.15 -8.63L-8.84 -8.22L-9.60 -7.84L-10.27 -7.59L-10.27 -9.02L-9.35 -9.47L-8.49 -10.01L-7.64 -10.68L-7.04 -11.36L-6.68 -12.04L-5.65 -12.04Z"/>
<line x1="543" y1="312.25" x2="581.25" y2="312.25" />
<path class="ah" d="M566.80 312.25L561.30 313.65L561.30 310.85Z"/>
<path class="ah" d="M571.00 312.25L576.50 310.85L576.50 313.65Z"/>
<text transform="translate(511.20 330.00) scale(1.04 1)" font-size="17.5"><tspan class="h1">1</tspan>.4</text>
<path class="g1" transform="translate(511.20 330.00) scale(1.04 1)" d="M-5.65 0.00L-7.19 0.00L-7.19 -9.40L-7.55 -9.06L-8.15 -8.63L-8.84 -8.22L-9.60 -7.84L-10.27 -7.59L-10.27 -9.02L-9.35 -9.47L-8.49 -10.01L-7.64 -10.68L-7.04 -11.36L-6.68 -12.04L-5.65 -12.04Z"/>
<text transform="translate(534.40 330.00) scale(1.04 1)" font-size="17.5">0</text>
<text transform="translate(547.50 330.00) scale(1.04 1)" font-size="17.5">0</text>
<text transform="translate(560.80 330.00) scale(1.04 1)" font-size="17.5">0</text>
<text transform="translate(574.75 330.00) scale(1.04 1)" font-size="17.5"><tspan class="h1">1</tspan></text>
<path class="g1" transform="translate(574.75 330.00) scale(1.04 1)" d="M1.65 0.00L0.11 0.00L0.11 -9.40L-0.26 -9.06L-0.85 -8.63L-1.54 -8.22L-2.31 -7.84L-2.97 -7.59L-2.97 -9.02L-2.05 -9.47L-1.20 -10.01L-0.34 -10.68L0.26 -11.36L0.62 -12.04L1.65 -12.04Z"/>
<text transform="translate(526.25 321.20) scale(1.04 1)" font-size="9">+</text>
<line x1="539.8" y1="320.5" x2="541.2" y2="320.5" />
<line x1="553.2" y1="331.8" x2="554.6" y2="331.8" />
<line x1="524.4" y1="334.7" x2="577.5" y2="334.7" />
<path class="ah" d="M563.30 334.70L557.80 336.10L557.80 333.30Z"/>
<path class="ah" d="M566.80 334.70L572.30 333.30L572.30 336.10Z"/>
<text transform="translate(543.50 348.00) scale(1.04 1)" font-size="17.5">0.3</text>
<line x1="537" y1="350.3" x2="574.4" y2="350.3" />
<path class="ah" d="M563.30 350.30L557.80 351.70L557.80 348.90Z"/>
<path class="ah" d="M566.80 350.30L572.30 348.90L572.30 351.70Z"/>
<line x1="563.3" y1="312.25" x2="563.3" y2="350.3" />
<line x1="563.4" y1="350.3" x2="563.4" y2="452.2" stroke="#111" stroke-width="1.5" />
<line x1="566.8" y1="312.25" x2="566.8" y2="374" />
<line x1="571" y1="312.25" x2="571" y2="377.3" />
<text transform="translate(600.85 331.75) rotate(-53) scale(1.04 1) translate(0 6.02)" font-size="17.5">0.2*45</text>
<text transform="translate(581.60 356.80) rotate(-53) scale(1.04 1) translate(0 6.02)" font-size="17.5">C</text>
<text transform="translate(612.20 304.30) rotate(-53) scale(1.04 1) translate(0 4.13)" font-size="12">°</text>
<line x1="567.6" y1="374.6" x2="590" y2="352" />
<line x1="563" y1="374.5" x2="587.5" y2="374.5" />
<line x1="570" y1="377.9" x2="606.25" y2="377.9" />
<line x1="570" y1="418.3" x2="606.25" y2="418.3" />
<line x1="555" y1="382.25" x2="563.5" y2="382.25" />
<line x1="588.5" y1="364.4" x2="588.5" y2="401.9" />
<path class="ah" d="M588.50 374.50L587.10 369.00L589.90 369.00Z"/>
<path class="ah" d="M588.50 377.90L589.90 383.40L587.10 383.40Z"/>
<text transform="translate(587.00 391.20) rotate(-90) scale(1.04 1)" font-size="17.5"><tspan class="h1">1</tspan>.3</text>
<path class="g1" transform="translate(587.00 391.20) rotate(-90) scale(1.04 1)" d="M-5.65 0.00L-7.19 0.00L-7.19 -9.40L-7.55 -9.06L-8.15 -8.63L-8.84 -8.22L-9.60 -7.84L-10.27 -7.59L-10.27 -9.02L-9.35 -9.47L-8.49 -10.01L-7.64 -10.68L-7.04 -11.36L-6.68 -12.04L-5.65 -12.04Z"/>
<line x1="605.6" y1="377.9" x2="605.6" y2="418.3" />
<path class="ah" d="M605.60 377.90L607.00 383.40L604.20 383.40Z"/>
<path class="ah" d="M605.60 418.30L604.20 412.80L607.00 412.80Z"/>
<text transform="translate(605.00 400.00) rotate(-90) scale(1.04 1)" font-size="17.5"><tspan class="h1">1</tspan>5</text>
<path class="g1" transform="translate(605.00 400.00) rotate(-90) scale(1.04 1)" d="M-3.22 0.00L-4.76 0.00L-4.76 -9.40L-5.13 -9.06L-5.72 -8.63L-6.41 -8.22L-7.18 -7.84L-7.84 -7.59L-7.84 -9.02L-6.92 -9.47L-6.07 -10.01L-5.21 -10.68L-4.61 -11.36L-4.25 -12.04L-3.22 -12.04Z"/>
<text transform="translate(594.75 434.70) scale(1.04 1)" font-size="17.5">R<tspan class="h1">1</tspan>.5</text>
<path class="g1" transform="translate(594.75 434.70) scale(1.04 1)" d="M0.67 0.00L-0.87 0.00L-0.87 -9.40L-1.24 -9.06L-1.83 -8.63L-2.52 -8.22L-3.29 -7.84L-3.95 -7.59L-3.95 -9.02L-3.03 -9.47L-2.18 -10.01L-1.32 -10.68L-0.72 -11.36L-0.36 -12.04L0.67 -12.04Z"/>
<path d="M570.6 418.3L584.4 436L603 436" />
<path class="ah" d="M570.60 418.30L574.12 420.66L571.88 422.34Z"/>
<text transform="translate(545.00 450.60) scale(1.04 1)" font-size="17.5">2.5</text>
<line x1="538.4" y1="452" x2="581.6" y2="452" />
<path class="ah" d="M563.40 452.00L557.90 453.40L557.90 450.60Z"/>
<path class="ah" d="M571.00 452.00L576.50 450.60L576.50 453.40Z"/>
</g>
<path d="M87.5 418.4L87.5 323.3L90.4 323.3Q90.6 327.1 92.7 327.1Q94.8 327.1 94.8 323.3L99.4 323.3L99.4 332.6L94.0 332.6L94.0 403.4L97.6 403.4M99.4 406.4L102.4 406.4L102.4 411.7L555.6 411.7L555.6 408.2L559.2 408.2M563.3 405.5L563.3 374.0L566.75 374.0L566.75 377.3L571.0 377.3L571.0 418.4L87.5 418.4" stroke="#d47070" stroke-width="1.3" fill="none"/>
<circle cx="96.25" cy="409" r="2.8" stroke="#d47070" stroke-width="1.3" fill="none"/>
<circle cx="561.9" cy="410" r="3" stroke="#d47070" stroke-width="1.3" fill="none"/>
<line x1="112" y1="418.4" x2="555" y2="418.4" stroke="#b06060" stroke-width="0.7" stroke-dasharray="1.5 2" opacity="0.5"/>
<line x1="160.8" y1="418.4" x2="186" y2="418.4" stroke="#b03030" stroke-width="1.3"/>
<line x1="430" y1="411.7" x2="465" y2="411.7" stroke="#c84848" stroke-width="1.3"/>
</g>
</svg>
</body></html>
